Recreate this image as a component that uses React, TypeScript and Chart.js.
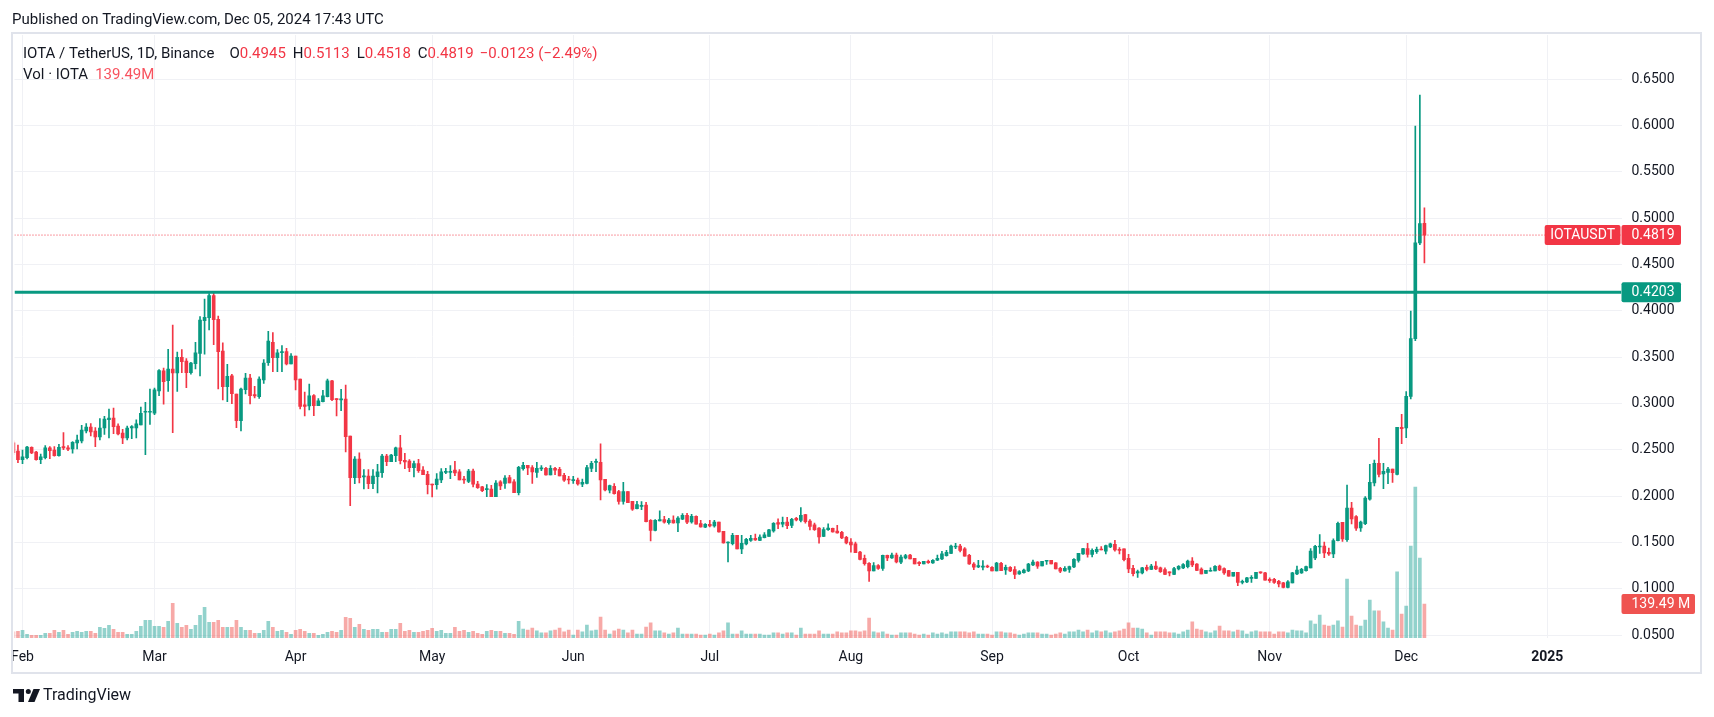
import React, { useEffect, useRef } from 'react';
import { Chart, registerables } from 'chart.js';

Chart.register(...registerables);

// ---------- data (IOTA / USDT, 1D, Binance) ----------
const firstCandleDate = '2024-01-30';

const opens = [
  0.2576,0.2489,0.2396,0.2417,0.2529,0.2478,0.2396,0.2417,0.2522,0.2500,
  0.2439,0.2536,0.2522,0.2511,0.2576,0.2597,0.2705,0.2748,0.2705,0.2640,
  0.2737,0.2827,0.2845,0.2759,0.2683,0.2630,0.2737,0.2737,0.2770,0.2907,
  0.2907,0.2896,0.3137,0.3353,0.3248,0.3374,0.3331,0.3500,0.3460,0.3335,
  0.3432,0.3543,0.3896,0.3928,0.4165,0.3910,0.3568,0.3183,0.3299,0.3104,
  0.2817,0.3151,0.3277,0.3097,0.3076,0.3255,0.3442,0.3662,0.3496,0.3551,
  0.3561,0.3428,0.3514,0.3266,0.2986,0.2975,0.3086,0.2978,0.3022,0.3076,
  0.3245,0.3054,0.3040,0.3050,0.2651,0.2202,0.2403,0.2209,0.2219,0.2137,
  0.2212,0.2256,0.2435,0.2374,0.2439,0.2522,0.2389,0.2381,0.2309,0.2353,
  0.2284,0.2237,0.2133,0.2126,0.2176,0.2259,0.2259,0.2284,0.2263,0.2187,
  0.2162,0.2273,0.2133,0.2101,0.2072,0.2079,0.1997,0.2155,0.2140,0.2202,
  0.2155,0.2040,0.2299,0.2335,0.2309,0.2259,0.2295,0.2302,0.2230,0.2302,
  0.2291,0.2227,0.2187,0.2169,0.2176,0.2130,0.2140,0.2302,0.2367,0.2367,
  0.2183,0.2065,0.2108,0.2050,0.1946,0.2050,0.1946,0.1867,0.1892,0.1906,
  0.1741,0.1633,0.1734,0.1748,0.1716,0.1744,0.1712,0.1752,0.1795,0.1723,
  0.1784,0.1705,0.1666,0.1698,0.1680,0.1723,0.1622,0.1496,0.1489,0.1579,
  0.1432,0.1486,0.1525,0.1547,0.1525,0.1554,0.1568,0.1626,0.1716,0.1698,
  0.1723,0.1687,0.1763,0.1741,0.1802,0.1734,0.1691,0.1658,0.1568,0.1640,
  0.1655,0.1626,0.1611,0.1557,0.1507,0.1486,0.1399,0.1331,0.1277,0.1194,
  0.1252,0.1223,0.1363,0.1335,0.1367,0.1288,0.1335,0.1367,0.1331,0.1288,
  0.1270,0.1299,0.1281,0.1310,0.1324,0.1360,0.1385,0.1453,0.1464,0.1432,
  0.1363,0.1270,0.1237,0.1234,0.1248,0.1234,0.1194,0.1277,0.1205,0.1234,
  0.1209,0.1162,0.1176,0.1194,0.1260,0.1291,0.1248,0.1299,0.1310,0.1281,
  0.1223,0.1194,0.1212,0.1238,0.1309,0.1378,0.1435,0.1374,0.1403,0.1428,
  0.1407,0.1453,0.1482,0.1425,0.1432,0.1331,0.1223,0.1173,0.1173,0.1234,
  0.1212,0.1248,0.1227,0.1209,0.1184,0.1158,0.1216,0.1227,0.1241,0.1302,
  0.1270,0.1216,0.1169,0.1191,0.1194,0.1248,0.1220,0.1198,0.1137,0.1180,
  0.1072,0.1076,0.1115,0.1115,0.1184,0.1173,0.1104,0.1104,0.1083,0.1065,
  0.1018,0.1065,0.1162,0.1173,0.1198,0.1227,0.1335,0.1453,0.1464,0.1396,
  0.1378,0.1522,0.1720,0.1533,0.1874,0.1781,0.1658,0.1705,0.1968,0.2144,
  0.2356,0.2241,0.2259,0.2295,0.2237,0.2745,0.2737,0.3079,0.3702,0.4734,
  0.4945,
];

const highs = [
  0.2600,0.2554,0.2500,0.2540,0.2533,0.2485,0.2457,0.2547,0.2536,0.2536,
  0.2561,0.2687,0.2547,0.2590,0.2662,0.2766,0.2784,0.2784,0.2741,0.2838,
  0.2863,0.2942,0.2953,0.2781,0.2723,0.2759,0.2763,0.2824,0.2964,0.3014,
  0.3158,0.3169,0.3367,0.3385,0.3586,0.3849,0.3557,0.3583,0.3485,0.3446,
  0.3662,0.3939,0.4129,0.4187,0.4205,0.3946,0.3655,0.3425,0.3317,0.3104,
  0.3169,0.3327,0.3317,0.3187,0.3288,0.3475,0.3781,0.3766,0.3583,0.3626,
  0.3597,0.3539,0.3514,0.3266,0.3126,0.3212,0.3097,0.3054,0.3144,0.3266,
  0.3252,0.3054,0.3155,0.3201,0.2651,0.2428,0.2468,0.2288,0.2288,0.2288,
  0.2345,0.2453,0.2453,0.2453,0.2532,0.2658,0.2464,0.2396,0.2381,0.2399,
  0.2320,0.2270,0.2133,0.2245,0.2299,0.2302,0.2331,0.2378,0.2288,0.2216,
  0.2291,0.2295,0.2162,0.2108,0.2126,0.2119,0.2169,0.2169,0.2223,0.2227,
  0.2180,0.2324,0.2367,0.2335,0.2331,0.2367,0.2331,0.2313,0.2331,0.2313,
  0.2313,0.2248,0.2216,0.2216,0.2198,0.2187,0.2335,0.2378,0.2403,0.2565,
  0.2183,0.2122,0.2137,0.2065,0.2151,0.2050,0.1946,0.1946,0.1942,0.1935,
  0.1748,0.1748,0.1842,0.1784,0.1763,0.1788,0.1780,0.1813,0.1817,0.1806,
  0.1788,0.1741,0.1705,0.1741,0.1741,0.1723,0.1622,0.1510,0.1601,0.1579,
  0.1579,0.1546,0.1579,0.1593,0.1583,0.1608,0.1644,0.1716,0.1756,0.1777,
  0.1774,0.1763,0.1773,0.1878,0.1806,0.1748,0.1712,0.1662,0.1662,0.1702,
  0.1658,0.1687,0.1622,0.1568,0.1543,0.1507,0.1407,0.1367,0.1284,0.1284,
  0.1262,0.1367,0.1367,0.1388,0.1388,0.1367,0.1374,0.1374,0.1331,0.1295,
  0.1299,0.1313,0.1317,0.1367,0.1407,0.1417,0.1475,0.1493,0.1482,0.1446,
  0.1374,0.1284,0.1309,0.1306,0.1259,0.1241,0.1288,0.1288,0.1259,0.1241,
  0.1241,0.1198,0.1216,0.1277,0.1313,0.1295,0.1299,0.1310,0.1310,0.1284,
  0.1234,0.1241,0.1248,0.1327,0.1385,0.1439,0.1493,0.1432,0.1453,0.1457,
  0.1475,0.1496,0.1525,0.1446,0.1432,0.1374,0.1255,0.1205,0.1234,0.1259,
  0.1266,0.1295,0.1237,0.1227,0.1184,0.1234,0.1252,0.1273,0.1313,0.1338,
  0.1273,0.1227,0.1202,0.1227,0.1252,0.1259,0.1227,0.1202,0.1180,0.1180,
  0.1097,0.1126,0.1144,0.1180,0.1184,0.1180,0.1119,0.1115,0.1094,0.1072,
  0.1090,0.1180,0.1248,0.1223,0.1248,0.1435,0.1471,0.1586,0.1507,0.1442,
  0.1540,0.1723,0.1720,0.2122,0.1935,0.1792,0.1734,0.1996,0.2345,0.2392,
  0.2626,0.2356,0.2313,0.2295,0.2745,0.2885,0.3130,0.4000,0.5996,0.6331,
  0.5113,
];

const lows = [
  0.2450,0.2363,0.2353,0.2403,0.2460,0.2390,0.2353,0.2403,0.2407,0.2432,
  0.2432,0.2504,0.2493,0.2465,0.2511,0.2576,0.2683,0.2651,0.2536,0.2608,
  0.2669,0.2630,0.2676,0.2662,0.2568,0.2608,0.2622,0.2630,0.2770,0.2450,
  0.2777,0.2882,0.3087,0.2993,0.3133,0.2687,0.3133,0.3335,0.3173,0.3317,
  0.3374,0.3299,0.3533,0.3795,0.3637,0.3158,0.3039,0.3021,0.3000,0.2741,
  0.2705,0.3104,0.2996,0.3061,0.3057,0.3219,0.3413,0.3345,0.3345,0.3345,
  0.3417,0.3428,0.3147,0.2942,0.2867,0.2932,0.2871,0.2978,0.3018,0.3072,
  0.3032,0.2867,0.2924,0.2478,0.1899,0.2137,0.2144,0.2079,0.2083,0.2083,
  0.2036,0.2205,0.2331,0.2374,0.2374,0.2349,0.2299,0.2266,0.2208,0.2259,
  0.2234,0.2025,0.1993,0.2076,0.2147,0.2245,0.2191,0.2223,0.2176,0.2140,
  0.2147,0.2101,0.2086,0.2051,0.1997,0.1997,0.1997,0.2072,0.2086,0.2144,
  0.2040,0.2015,0.2281,0.2234,0.2140,0.2205,0.2277,0.2227,0.2230,0.2234,
  0.2219,0.2162,0.2133,0.2140,0.2119,0.2104,0.2133,0.2266,0.2266,0.1960,
  0.2058,0.2036,0.2022,0.1914,0.1914,0.1932,0.1849,0.1863,0.1856,0.1724,
  0.1518,0.1626,0.1734,0.1709,0.1698,0.1709,0.1619,0.1748,0.1705,0.1709,
  0.1698,0.1666,0.1662,0.1669,0.1666,0.1612,0.1493,0.1291,0.1475,0.1432,
  0.1381,0.1475,0.1514,0.1525,0.1522,0.1550,0.1568,0.1612,0.1651,0.1669,
  0.1651,0.1662,0.1734,0.1723,0.1709,0.1637,0.1633,0.1493,0.1564,0.1633,
  0.1612,0.1601,0.1543,0.1486,0.1396,0.1392,0.1313,0.1256,0.1082,0.1194,
  0.1212,0.1201,0.1306,0.1331,0.1281,0.1273,0.1324,0.1324,0.1270,0.1252,
  0.1270,0.1277,0.1277,0.1306,0.1317,0.1353,0.1381,0.1435,0.1399,0.1353,
  0.1266,0.1209,0.1230,0.1205,0.1230,0.1194,0.1194,0.1198,0.1158,0.1187,
  0.1112,0.1158,0.1170,0.1187,0.1252,0.1223,0.1248,0.1266,0.1270,0.1216,
  0.1176,0.1191,0.1180,0.1230,0.1288,0.1374,0.1342,0.1345,0.1385,0.1421,
  0.1378,0.1446,0.1407,0.1378,0.1302,0.1176,0.1140,0.1126,0.1162,0.1194,
  0.1209,0.1209,0.1180,0.1155,0.1140,0.1155,0.1205,0.1219,0.1227,0.1241,
  0.1198,0.1162,0.1169,0.1191,0.1194,0.1198,0.1158,0.1137,0.1137,0.1036,
  0.1054,0.1068,0.1072,0.1115,0.1169,0.1094,0.1072,0.1061,0.1022,0.1011,
  0.1011,0.1065,0.1155,0.1169,0.1191,0.1227,0.1317,0.1385,0.1338,0.1363,
  0.1338,0.1518,0.1514,0.1514,0.1701,0.1633,0.1622,0.1694,0.1957,0.2111,
  0.2209,0.2083,0.2137,0.2151,0.2230,0.2568,0.2633,0.3050,0.3680,0.4716,
  0.4518,
];

const closes = [
  0.2471,0.2396,0.2425,0.2532,0.2468,0.2396,0.2425,0.2522,0.2493,0.2439,
  0.2529,0.2522,0.2508,0.2583,0.2608,0.2716,0.2748,0.2694,0.2640,0.2737,
  0.2834,0.2845,0.2752,0.2673,0.2630,0.2737,0.2752,0.2781,0.2896,0.2910,
  0.2910,0.3148,0.3356,0.3237,0.3374,0.3331,0.3500,0.3453,0.3335,0.3439,
  0.3547,0.3903,0.3932,0.4165,0.3906,0.3561,0.3183,0.3295,0.3108,0.2817,
  0.3158,0.3277,0.3086,0.3083,0.3266,0.3439,0.3676,0.3496,0.3547,0.3561,
  0.3428,0.3514,0.3255,0.2971,0.2971,0.3083,0.2978,0.3029,0.3083,0.3245,
  0.3043,0.3043,0.3050,0.2644,0.2202,0.2403,0.2202,0.2219,0.2137,0.2219,
  0.2263,0.2435,0.2374,0.2446,0.2522,0.2385,0.2370,0.2309,0.2353,0.2277,
  0.2234,0.2126,0.2122,0.2187,0.2263,0.2270,0.2270,0.2252,0.2176,0.2176,
  0.2273,0.2130,0.2094,0.2061,0.2083,0.1997,0.2144,0.2112,0.2198,0.2144,
  0.2040,0.2313,0.2335,0.2306,0.2263,0.2302,0.2306,0.2230,0.2302,0.2281,
  0.2219,0.2173,0.2176,0.2180,0.2133,0.2151,0.2309,0.2356,0.2378,0.2176,
  0.2068,0.2115,0.2029,0.1946,0.2050,0.1932,0.1860,0.1910,0.1899,0.1727,
  0.1633,0.1741,0.1748,0.1720,0.1744,0.1712,0.1766,0.1795,0.1720,0.1784,
  0.1698,0.1669,0.1698,0.1680,0.1723,0.1615,0.1496,0.1507,0.1579,0.1432,
  0.1493,0.1536,0.1547,0.1529,0.1561,0.1583,0.1637,0.1709,0.1698,0.1720,
  0.1683,0.1752,0.1745,0.1795,0.1727,0.1676,0.1640,0.1561,0.1640,0.1658,
  0.1615,0.1604,0.1550,0.1496,0.1475,0.1392,0.1320,0.1273,0.1194,0.1252,
  0.1223,0.1363,0.1335,0.1367,0.1291,0.1345,0.1360,0.1324,0.1270,0.1273,
  0.1299,0.1284,0.1310,0.1331,0.1378,0.1396,0.1464,0.1464,0.1417,0.1353,
  0.1270,0.1234,0.1252,0.1248,0.1237,0.1194,0.1280,0.1198,0.1234,0.1194,
  0.1158,0.1187,0.1205,0.1270,0.1291,0.1245,0.1299,0.1310,0.1270,0.1216,
  0.1191,0.1223,0.1241,0.1320,0.1385,0.1435,0.1374,0.1417,0.1428,0.1421,
  0.1468,0.1486,0.1421,0.1417,0.1317,0.1216,0.1166,0.1187,0.1227,0.1212,
  0.1248,0.1216,0.1187,0.1158,0.1173,0.1219,0.1245,0.1263,0.1302,0.1259,
  0.1201,0.1162,0.1202,0.1202,0.1245,0.1205,0.1173,0.1137,0.1180,0.1072,
  0.1083,0.1119,0.1126,0.1180,0.1173,0.1094,0.1090,0.1072,0.1054,0.1018,
  0.1076,0.1173,0.1205,0.1212,0.1241,0.1410,0.1460,0.1464,0.1389,0.1378,
  0.1522,0.1709,0.1540,0.1874,0.1755,0.1655,0.1723,0.1982,0.2151,0.2356,
  0.2237,0.2270,0.2295,0.2255,0.2745,0.2730,0.3079,0.3702,0.4734,0.4942,
  0.4819,
];

// volume in millions of IOTA
const volumesM = [
  25,27,31,15,11,11,11,19,19,31,
  23,31,15,23,27,23,27,27,19,44,
  40,52,36,23,23,15,15,27,48,72,
  72,48,48,44,68,142,60,44,52,36,
  52,93,126,64,64,72,44,44,44,72,
  44,31,31,19,19,31,68,44,27,31,
  23,15,31,36,27,19,19,11,15,23,
  27,23,31,85,81,44,56,36,31,36,
  36,23,23,36,36,60,27,31,23,23,
  27,31,40,27,31,19,19,44,27,31,
  23,27,19,15,27,31,27,27,19,19,
  15,68,37,33,41,29,21,21,29,33,
  41,25,33,12,33,25,53,29,33,86,
  33,16,29,37,33,21,33,16,16,45,
  62,29,29,21,16,21,41,16,16,16,
  16,12,12,16,12,21,29,62,16,16,
  29,16,16,16,16,12,12,21,21,16,
  21,21,12,41,16,16,16,29,16,16,
  16,25,21,21,29,29,25,29,82,25,
  21,25,16,12,12,21,21,21,16,12,
  16,12,21,16,21,16,25,25,25,25,
  21,25,16,16,16,12,25,25,21,21,
  16,12,16,21,21,21,16,16,12,16,
  21,16,25,25,33,25,33,21,29,25,
  29,21,25,29,37,62,41,41,37,21,
  12,25,25,25,21,21,16,25,33,66,
  37,33,25,21,29,49,29,29,25,33,
  29,16,25,29,25,25,25,16,25,25,
  21,33,29,29,21,70,57,94,53,49,
  53,70,45,242,90,53,49,74,156,111,
  111,66,41,33,271,98,131,377,619,328,
  139.49,
];

const monthTickDates = [
  '2024-02-01','2024-03-01','2024-04-01','2024-05-01','2024-06-01','2024-07-01',
  '2024-08-01','2024-09-01','2024-10-01','2024-11-01','2024-12-01','2025-01-01',
];
const monthTickLabels = ['Feb','Mar','Apr','May','Jun','Jul','Aug','Sep','Oct','Nov','Dec','2025'];
const priceTicks = [0.05,0.1,0.15,0.2,0.25,0.3,0.35,0.4,0.45,0.5,0.55,0.6,0.65];
const supportLevel = 0.4203;
const symbolName = 'IOTAUSDT';

// ---------- helpers ----------
const UP = '#089981';
const DOWN = '#F23645';
const UP_VOL = 'rgba(38,166,154,0.5)';
const DOWN_VOL = 'rgba(239,83,80,0.5)';
const TEXT = '#131722';
const GRID = '#f0f1f5';
const FONT = 'Roboto, "Noto Sans", sans-serif';

const DAY_MS = 86400000;
const ORIGIN = Date.UTC(2024, 1, 1);
const dayNo = (iso: string) => {
  const [y, m, d] = iso.split('-').map(Number);
  return (Date.UTC(y, m - 1, d) - ORIGIN) / DAY_MS;
};
const firstX = dayNo(firstCandleDate);
const tickValues = monthTickDates.map(dayNo);
const X_MIN = -1.76;
const X_MAX = 351.3;

const isUp = (i: number) => closes[i] >= opens[i];

const decorPlugin = {
  id: 'tvDecor',
  beforeDraw(chart: any) {
    const ctx = chart.ctx;
    ctx.save();
    ctx.fillStyle = '#ffffff';
    ctx.fillRect(0, 0, chart.width, chart.height);
    ctx.restore();
  },
  afterDraw(chart: any) {
    const ctx: CanvasRenderingContext2D = chart.ctx;
    const area = chart.chartArea;
    const ys = chart.scales.y;
    const yv = chart.scales.yv;
    const last = closes.length - 1;
    ctx.save();

    // hide axis text outside the frame on the left
    ctx.fillStyle = '#ffffff';
    ctx.fillRect(0, area.bottom, 12, 40);

    // frame
    ctx.strokeStyle = '#e0e3eb';
    ctx.lineWidth = 2;
    ctx.strokeRect(12, 33, 1689, 640);

    // header
    ctx.textBaseline = 'middle';
    ctx.textAlign = 'left';
    ctx.fillStyle = TEXT;
    ctx.font = `15px ${FONT}`;
    ctx.fillText('Published on TradingView.com, Dec 05, 2024 17:43 UTC', 12, 20);

    // legend line 1
    const o = opens[last], h = highs[last], l = lows[last], c = closes[last];
    const prev = closes[last - 1];
    const ch = c - prev;
    const pct = (ch / prev) * 100;
    const minus = (v: number, d: number) => (v < 0 ? '\u2212' : '+') + Math.abs(v).toFixed(d);
    const valColor = c >= o ? UP : DOWN;
    const segs: [string, string, number][] = [
      ['IOTA / TetherUS, 1D, Binance', TEXT, 15],
      ['O', TEXT, 0], [o.toFixed(4), valColor, 7],
      ['H', TEXT, 0], [h.toFixed(4), valColor, 7],
      ['L', TEXT, 0], [l.toFixed(4), valColor, 7],
      ['C', TEXT, 0], [c.toFixed(4), valColor, 6],
      [minus(ch, 4), valColor, 4], ['(' + minus(pct, 2) + '%)', valColor, 0],
    ];
    let x = 23;
    ctx.font = `15px ${FONT}`;
    for (const [t, col, gap] of segs) {
      ctx.fillStyle = col;
      ctx.fillText(t, x, 54.5);
      x += ctx.measureText(t).width + gap;
    }
    // legend line 2
    ctx.fillStyle = TEXT;
    ctx.fillText('Vol \u00b7 IOTA', 23, 75);
    const vw = ctx.measureText('Vol \u00b7 IOTA').width;
    ctx.fillStyle = '#F7525F';
    ctx.fillText(volumesM[last].toFixed(2) + 'M', 23 + vw + 7, 75);

    // axis price labels
    const box = (bx: number, by: number, w: number, hgt: number, col: string, txt: string, tx: number) => {
      ctx.fillStyle = col;
      ctx.beginPath();
      if ((ctx as any).roundRect) (ctx as any).roundRect(bx, by, w, hgt, 2);
      else ctx.rect(bx, by, w, hgt);
      ctx.fill();
      ctx.fillStyle = '#ffffff';
      ctx.font = `14px ${FONT}`;
      ctx.textAlign = 'left';
      ctx.fillText(txt, tx, by + hgt / 2 + 0.5);
    };
    const yc = ys.getPixelForValue(c);
    ctx.font = `14px ${FONT}`;
    const symW = ctx.measureText(symbolName).width;
    box(area.right - symW - 12, yc - 10, symW + 11, 20, DOWN, symbolName, area.right - symW - 6.5);
    box(area.right, yc - 10, 59.5, 20, DOWN, c.toFixed(4), area.right + 10);
    const ysup = ys.getPixelForValue(supportLevel);
    box(area.right, ysup - 10, 59.5, 20, UP, supportLevel.toFixed(4), area.right + 10);
    const yvol = yv.getPixelForValue(volumesM[last]);
    box(area.right, yvol - 10, 73.5, 20, '#EF5350', volumesM[last].toFixed(2) + ' M', area.right + 10);

    // TradingView logo
    ctx.fillStyle = TEXT;
    ctx.fillRect(13, 689, 11, 4.5);
    ctx.fillRect(18.5, 689, 5.5, 13);
    ctx.beginPath();
    ctx.arc(28.3, 691.4, 2.5, 0, Math.PI * 2);
    ctx.fill();
    ctx.beginPath();
    ctx.moveTo(33.5, 689);
    ctx.lineTo(40, 689);
    ctx.lineTo(34.5, 702);
    ctx.lineTo(28, 702);
    ctx.closePath();
    ctx.fill();
    ctx.font = `16px ${FONT}`;
    ctx.fillText('TradingView', 43, 696);

    ctx.restore();
  },
};

export default function App() {
  const ref = useRef<HTMLCanvasElement | null>(null);

  useEffect(() => {
    if (!ref.current) return;
    const idx = closes.map((_, i) => i);
    const last = closes.length - 1;

    const chart = new Chart(ref.current, {
      type: 'bar',
      data: {
        datasets: [
          {
            type: 'line',
            data: [{ x: X_MIN, y: supportLevel }, { x: X_MAX, y: supportLevel }],
            borderColor: UP,
            borderWidth: 3,
            pointRadius: 0,
            order: 0,
          } as any,
          {
            type: 'line',
            data: [{ x: X_MIN, y: closes[last] }, { x: X_MAX, y: closes[last] }],
            borderColor: DOWN,
            borderWidth: 1,
            borderDash: [1, 2],
            pointRadius: 0,
            order: 1,
          } as any,
          {
            type: 'bar',
            data: idx.map((i) => ({ x: firstX + i, y: [opens[i], closes[i]] })),
            backgroundColor: idx.map((i) => (isUp(i) ? UP : DOWN)),
            barThickness: 3,
            minBarLength: 1,
            grouped: false,
            order: 2,
          } as any,
          {
            type: 'bar',
            data: idx.map((i) => ({ x: firstX + i, y: [lows[i], highs[i]] })),
            backgroundColor: idx.map((i) => (isUp(i) ? UP : DOWN)),
            barThickness: 1,
            grouped: false,
            order: 3,
          } as any,
          {
            type: 'bar',
            yAxisID: 'yv',
            data: idx.map((i) => ({ x: firstX + i, y: volumesM[i] })),
            backgroundColor: idx.map((i) => (isUp(i) ? UP_VOL : DOWN_VOL)),
            barThickness: 3,
            grouped: false,
            order: 4,
          } as any,
        ],
      },
      options: {
        responsive: false,
        animation: false,
        devicePixelRatio: 1,
        events: [],
        layout: { padding: { left: 13, top: 35, right: 14, bottom: 44 } },
        plugins: { legend: { display: false }, tooltip: { enabled: false } },
        scales: {
          x: {
            type: 'linear',
            min: X_MIN,
            max: X_MAX,
            offset: false,
            afterBuildTicks: (s: any) => {
              s.ticks = tickValues.map((v) => ({ value: v }));
            },
            afterFit: (s: any) => {
              s.height = 35;
            },
            ticks: {
              autoSkip: false,
              maxRotation: 0,
              minRotation: 0,
              padding: 11,
              color: TEXT,
              font: (c: any) => ({
                family: FONT,
                size: 14,
                weight: c.tick && c.tick.value === tickValues[tickValues.length - 1] ? 'bold' : 'normal',
              }),
              callback: (v: any) => monthTickLabels[tickValues.indexOf(Number(v))] ?? '',
            },
            grid: { color: GRID, drawTicks: false, offset: false },
            border: { display: false },
          },
          y: {
            type: 'linear',
            position: 'right',
            min: 0.0471,
            max: 0.6978,
            afterBuildTicks: (s: any) => {
              s.ticks = priceTicks.map((v) => ({ value: v }));
            },
            afterFit: (s: any) => {
              s.width = 78.5;
            },
            ticks: {
              padding: 10,
              color: TEXT,
              font: { family: FONT, size: 14 },
              callback: (v: any) => Number(v).toFixed(4),
            },
            grid: { color: GRID, drawTicks: false },
            border: { display: false },
          },
          yv: {
            type: 'linear',
            display: false,
            min: 0,
            max: 2474,
          },
        },
      } as any,
      plugins: [decorPlugin],
    });
    return () => chart.destroy();
  }, []);

  return (
    <div style={{ position: 'absolute', left: 0, top: 0, width: 1714, height: 717 }}>
      <canvas ref={ref} width={1714} height={717} style={{ display: 'block' }} />
    </div>
  );
}
